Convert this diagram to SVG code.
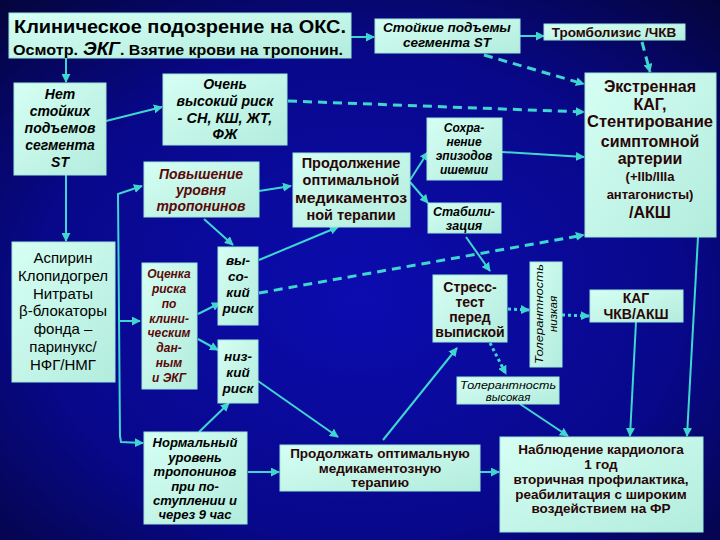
<svg xmlns="http://www.w3.org/2000/svg" width="720" height="540" viewBox="0 0 720 540">
<defs>
<radialGradient id="bg" cx="50%" cy="55%" r="75%">
<stop offset="0" stop-color="#0c0cb0"/>
<stop offset="0.6" stop-color="#08088a"/>
<stop offset="1" stop-color="#04043a"/>
</radialGradient>
<linearGradient id="nf" x1="0" y1="0" x2="1" y2="1">
<stop offset="0" stop-color="#d6fff4"/>
<stop offset="1" stop-color="#b2ecdc"/>
</linearGradient>
<marker id="ah" viewBox="0 0 10 10" refX="9" refY="5" markerWidth="9" markerHeight="9" markerUnits="userSpaceOnUse" orient="auto">
<path d="M0,0 L10,5 L0,10 z" fill="#3fd6cf"/>
</marker>
</defs>
<style>
.box{fill:url(#nf);stroke:#9fe8da;stroke-width:1}
text{font-family:"Liberation Sans",Arial,sans-serif;text-anchor:middle}
.bi{font-weight:bold;font-style:italic;fill:#000}
.b{font-weight:bold;fill:#2a0606}
.r{fill:#000}
.red{fill:#5a0808}
.ln{stroke:#3fd6cf;stroke-width:2;fill:none;marker-end:url(#ah)}
.ds{stroke:#3fd6cf;stroke-width:3;fill:none;stroke-dasharray:9 6;marker-end:url(#ah)}
.dt{stroke:#3fd6cf;stroke-width:3;fill:none;stroke-dasharray:3 3;marker-end:url(#ah)}
</style>
<rect width="720" height="540" fill="url(#bg)"/>

<g id="connectors">
<line class="ln" x1="351" y1="37" x2="374" y2="37"/>
<line class="ln" x1="520" y1="36" x2="544" y2="36"/>
<line class="ds" x1="642" y1="42" x2="650" y2="72"/>
<line class="ds" x1="484" y1="55" x2="584" y2="84"/>
<line class="ln" x1="66" y1="58" x2="66" y2="82"/>
<line class="ln" x1="106" y1="121" x2="162" y2="107"/>
<line class="ds" x1="288" y1="101" x2="584" y2="112"/>
<line class="ln" x1="502" y1="152" x2="584" y2="157"/>
<line class="ds" x1="259" y1="293" x2="584" y2="235"/>
<line class="ln" x1="66" y1="175" x2="66" y2="241"/>
<path class="ln" d="M120,437 L118,194 L142,186"/>
<path class="ln" d="M120,436 L121,442 L143,443"/>
<line class="ln" x1="118" y1="321" x2="140" y2="321"/>
<line class="ln" x1="259" y1="191" x2="291" y2="186"/>
<line class="ln" x1="204" y1="219" x2="233" y2="245"/>
<line class="ln" x1="198" y1="314" x2="220" y2="303"/>
<line class="ln" x1="198" y1="339" x2="218" y2="350"/>
<line class="ln" x1="199" y1="432" x2="229" y2="403"/>
<line class="ln" x1="259" y1="260" x2="338" y2="227"/>
<line class="ln" x1="410" y1="180" x2="428" y2="152"/>
<line class="ln" x1="410" y1="182" x2="428" y2="203"/>
<line class="ln" x1="466" y1="237" x2="490" y2="271"/>
<line class="ln" x1="258" y1="381" x2="338" y2="437"/>
<line class="ln" x1="383" y1="440" x2="457" y2="348"/>
<line class="ln" x1="248" y1="472" x2="279" y2="472"/>
<line class="ln" x1="480" y1="472" x2="499" y2="472"/>
<line class="dt" x1="508" y1="309" x2="529" y2="310"/>
<line class="dt" x1="490" y1="343" x2="506" y2="374"/>
<line class="dt" x1="562" y1="315" x2="589" y2="316"/>
<line class="ln" x1="520" y1="404" x2="568" y2="436"/>
<line class="ln" x1="636" y1="322" x2="630" y2="436"/>
<line class="ln" x1="698" y1="237" x2="687" y2="436"/>
</g>

<g id="title">
<rect class="box" x="9" y="13" width="342" height="45"/>
<text x="180" y="33" font-size="19" font-weight="bold" fill="#000" textLength="332" lengthAdjust="spacingAndGlyphs">Клиническое подозрение на ОКС.</text>
<text y="55" font-weight="bold" fill="#000" style="text-anchor:start"><tspan x="13" font-size="15" textLength="65" lengthAdjust="spacingAndGlyphs">Осмотр.</tspan><tspan x="83" font-size="19" font-style="italic">ЭКГ</tspan><tspan x="120" font-size="14" textLength="223" lengthAdjust="spacingAndGlyphs">. Взятие крови на тропонин.</tspan></text>
</g>

<g id="st-elevation">
<rect class="box" x="375" y="19" width="145" height="34"/>
<text class="bi" font-size="13.5" x="447" y="32">Стойкие подъемы</text>
<text class="bi" font-size="13.5" x="447" y="47">сегмента ST</text>
</g>

<g id="thrombolysis">
<rect class="box" x="544" y="24" width="141" height="16"/>
<text class="b" font-size="13.5" x="614" y="37" fill="#000">Тромболизис /ЧКВ</text>
</g>

<g id="no-st">
<rect class="box" x="14" y="83" width="92" height="92"/>
<text class="bi" font-size="14" x="60" y="99">Нет</text>
<text class="bi" font-size="14" x="60" y="116">стойких</text>
<text class="bi" font-size="14" x="60" y="133">подъемов</text>
<text class="bi" font-size="14" x="60" y="150">сегмента</text>
<text class="bi" font-size="14" x="60" y="167">ST</text>
</g>

<g id="very-high-risk">
<rect class="box" x="163" y="74" width="124" height="71"/>
<text class="bi" font-size="14" x="225" y="89">Очень</text>
<text class="bi" font-size="14" x="225" y="106">высокий риск</text>
<text class="bi" font-size="14.5" x="225" y="123">- СН, КШ, ЖТ,</text>
<text class="bi" font-size="14.5" x="225" y="139">ФЖ</text>
</g>

<g id="troponin-rise">
<rect class="box" x="144" y="162" width="115" height="55"/>
<text class="bi red" font-size="14" x="201" y="179">Повышение</text>
<text class="bi red" font-size="14" x="201" y="195">уровня</text>
<text class="bi red" font-size="14" x="201" y="211">тропонинов</text>
</g>

<g id="continue-therapy">
<rect class="box" x="293" y="153" width="117" height="74"/>
<text class="b" font-size="14.5" x="351" y="168">Продолжение</text>
<text class="b" font-size="14.5" x="351" y="185">оптимальной</text>
<text class="b" font-size="14.5" x="351" y="203" textLength="112" lengthAdjust="spacingAndGlyphs">медикаментоз</text>
<text class="b" font-size="14.5" x="351" y="220">ной терапии</text>
</g>

<g id="ischemia">
<rect class="box" x="427" y="118" width="75" height="62"/>
<text class="bi" font-size="12" x="464" y="132">Сохра-</text>
<text class="bi" font-size="12" x="464" y="146">нение</text>
<text class="bi" font-size="12" x="464" y="160">эпизодов</text>
<text class="bi" font-size="12" x="464" y="174">ишемии</text>
</g>

<g id="stabilization">
<rect class="box" x="428" y="203" width="73" height="30"/>
<text class="bi" font-size="12.5" x="464" y="216">Стабили-</text>
<text class="bi" font-size="12.5" x="464" y="230">зация</text>
</g>

<g id="urgent-cag">
<rect class="box" x="585" y="73" width="131" height="164"/>
<text class="b" font-size="16" x="650" y="92">Экстренная</text>
<text class="b" font-size="16" x="650" y="110">КАГ,</text>
<text class="b" font-size="16" x="650" y="127" textLength="126" lengthAdjust="spacingAndGlyphs">Стентирование</text>
<text class="b" font-size="16" x="650" y="147">симптомной</text>
<text class="b" font-size="16" x="650" y="164">артерии</text>
<text class="b" font-size="13" x="650" y="181">(+IIb/IIIa</text>
<text class="b" font-size="13" x="650" y="199">антагонисты)</text>
<text class="b" font-size="16" x="650" y="218">/АКШ</text>
</g>

<g id="drugs">
<rect class="box" x="12" y="242" width="103" height="140"/>
<text class="r" font-size="15" x="63" y="263">Аспирин</text>
<text class="r" font-size="15" x="63" y="281">Клопидогрел</text>
<text class="r" font-size="15" x="63" y="299">Нитраты</text>
<text class="r" font-size="15" x="63" y="316">β-блокаторы</text>
<text class="r" font-size="15" x="63" y="334">фонда –</text>
<text class="r" font-size="15" x="63" y="352">паринукс/</text>
<text class="r" font-size="15" x="63" y="370">НФГ/НМГ</text>
</g>

<g id="risk-assessment">
<rect class="box" x="142" y="263" width="55" height="126"/>
<text class="bi red" font-size="12" x="169" y="278">Оценка</text>
<text class="bi red" font-size="12" x="169" y="293">риска</text>
<text class="bi red" font-size="12" x="169" y="308">по</text>
<text class="bi red" font-size="12" x="169" y="323">клини-</text>
<text class="bi red" font-size="12" x="169" y="337">ческим</text>
<text class="bi red" font-size="12" x="169" y="352">дан-</text>
<text class="bi red" font-size="12" x="169" y="367">ным</text>
<text class="bi red" font-size="12" x="169" y="382">и ЭКГ</text>
</g>

<g id="high-risk">
<rect class="box" x="218" y="247" width="40" height="78"/>
<text class="bi" font-size="13.5" x="238" y="265">вы-</text>
<text class="bi" font-size="13.5" x="238" y="281">со-</text>
<text class="bi" font-size="13.5" x="238" y="297">кий</text>
<text class="bi" font-size="13.5" x="238" y="313">риск</text>
</g>

<g id="low-risk">
<rect class="box" x="218" y="340" width="40" height="63"/>
<text class="bi" font-size="13.5" x="238" y="361">низ-</text>
<text class="bi" font-size="13.5" x="238" y="377">кий</text>
<text class="bi" font-size="13.5" x="238" y="393">риск</text>
</g>

<g id="stress-test">
<rect class="box" x="433" y="275" width="74" height="67"/>
<text class="b" font-size="14" x="470" y="292">Стресс-</text>
<text class="b" font-size="14" x="470" y="307">тест</text>
<text class="b" font-size="14" x="470" y="322">перед</text>
<text class="b" font-size="14" x="470" y="337">выпиской</text>
</g>

<g id="tolerance-low">
<rect class="box" x="530" y="262" width="32" height="105"/>
<text font-size="11.5" font-style="italic" fill="#000" transform="translate(543,314) rotate(-90)" textLength="100" lengthAdjust="spacingAndGlyphs">Толерантность</text>
<text font-size="11.5" font-style="italic" fill="#000" transform="translate(557,314) rotate(-90)">низкая</text>
</g>

<g id="tolerance-high">
<rect class="box" x="457" y="377" width="102" height="27"/>
<text font-size="11.5" font-style="italic" fill="#000" x="508" y="389" textLength="96" lengthAdjust="spacingAndGlyphs">Толерантность</text>
<text font-size="11.5" font-style="italic" fill="#000" x="508" y="401">высокая</text>
</g>

<g id="cag-pci">
<rect class="box" x="590" y="290" width="93" height="32"/>
<text class="b" font-size="14" x="636" y="303">КАГ</text>
<text class="b" font-size="14" x="636" y="319">ЧКВ/АКШ</text>
</g>

<g id="normal-troponin">
<rect class="box" x="144" y="432" width="103" height="92"/>
<text class="bi" font-size="13" x="195" y="447">Нормальный</text>
<text class="bi" font-size="13" x="195" y="462">уровень</text>
<text class="bi" font-size="13" x="195" y="476">тропонинов</text>
<text class="bi" font-size="13" x="195" y="491">при по-</text>
<text class="bi" font-size="13" x="195" y="505">ступлении и</text>
<text class="bi" font-size="13" x="195" y="519">через 9 час</text>
</g>

<g id="continue-optimal">
<rect class="box" x="280" y="445" width="200" height="46"/>
<text class="b" font-size="13.5" x="380" y="458" fill="#000">Продолжать оптимальную</text>
<text class="b" font-size="13.5" x="380" y="473" fill="#000">медикаментозную</text>
<text class="b" font-size="13.5" x="380" y="487" fill="#000">терапию</text>
</g>

<g id="follow-up">
<rect class="box" x="500" y="437" width="203" height="95"/>
<text class="b" font-size="13.5" x="601" y="454">Наблюдение кардиолога</text>
<text class="b" font-size="13.5" x="601" y="469">1 год</text>
<text class="b" font-size="13.5" x="601" y="484">вторичная профилактика,</text>
<text class="b" font-size="13.5" x="601" y="499">реабилитация с широким</text>
<text class="b" font-size="13.5" x="601" y="513">воздействием на ФР</text>
</g>
</svg>
